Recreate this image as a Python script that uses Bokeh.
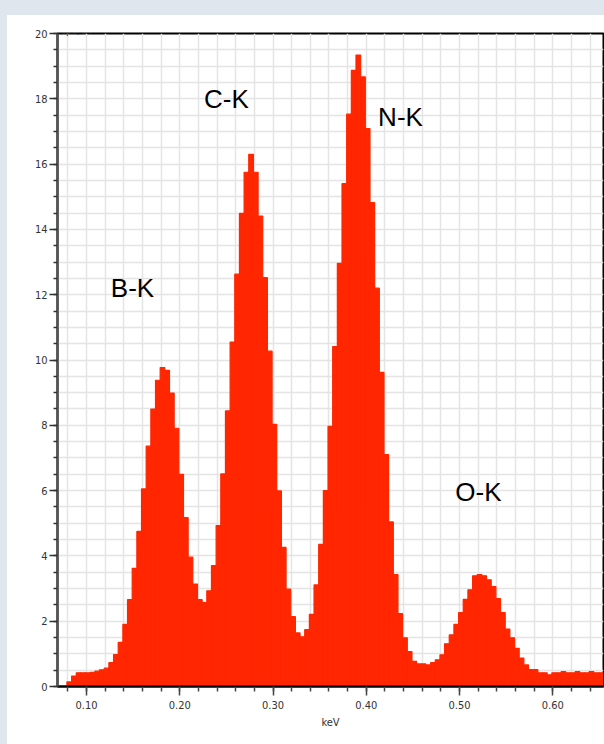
from bokeh.plotting import figure
from bokeh.models import FixedTicker, Range1d, Label, Spacer, ColumnDataSource
from bokeh.layouts import row, column
from bokeh.embed import file_html
from bokeh.resources import INLINE
from bokeh.core.properties import value

# EDS spectrum, 5 eV channels; first channel starts at 0.079 keV
channel_start = 0.079
channel_width = 0.005
counts = [
    0.14, 0.32, 0.42, 0.42, 0.42, 0.43, 0.47, 0.51, 0.56, 0.73,
    0.98, 1.35, 1.90, 2.66, 3.62, 4.75, 6.05, 7.36, 8.50, 9.38,
    9.77, 9.68, 8.99, 7.91, 6.50, 5.17, 3.96, 3.14, 2.66, 2.57,
    2.93, 3.70, 4.93, 6.51, 8.44, 10.55, 12.63, 14.49, 15.75, 16.30,
    15.75, 14.41, 12.52, 10.27, 8.03, 5.99, 4.26, 2.98, 2.14, 1.64,
    1.52, 1.74, 2.21, 3.11, 4.35, 6.00, 7.97, 10.41, 12.96, 15.40,
    17.53, 18.87, 19.34, 18.67, 17.09, 14.82, 12.20, 9.62, 7.10, 5.04,
    3.43, 2.23, 1.49, 1.07, 0.77, 0.69, 0.69, 0.66, 0.73, 0.82,
    0.97, 1.31, 1.58, 1.90, 2.26, 2.67, 2.96, 3.39, 3.43, 3.39,
    3.27, 3.06, 2.69, 2.26, 1.76, 1.49, 1.17, 0.87, 0.66, 0.52,
    0.52, 0.42, 0.42, 0.36, 0.42, 0.42, 0.46, 0.42, 0.42, 0.46,
    0.42, 0.42, 0.46, 0.42, 0.42,
]

# element lines and where their names sit (keV, cps/eV)
line_names = ["B-K", "C-K", "N-K", "O-K"]
line_label_x = [0.1493, 0.2501, 0.4367, 0.5203]
line_label_y = [12.20, 18.00, 17.45, 5.95]

x_tick_values = [0.10, 0.20, 0.30, 0.40, 0.50, 0.60]
x_tick_labels = ["0.10", "0.20", "0.30", "0.40", "0.50", "0.60"]
x_minor_values = [round(0.08 + 0.02 * k, 2) for k in range(29)]
y_tick_values = [0, 2, 4, 6, 8, 10, 12, 14, 16, 18, 20]
y_tick_labels = ["0", "2", "4", "6", "8", "10", "12", "14", "16", "18", "20"]
y_minor_values = [0.5 * k for k in range(41)]

BAR = "#ff2600"
PANEL = "#dfe6ee"
GRID = "#e4e4e4"
SMALL_FONT = "DejaVu Sans Condensed, Liberation Sans, sans-serif"

left = [channel_start + i * channel_width for i in range(len(counts))]
right = [e + channel_width for e in left]
src = ColumnDataSource(dict(left=left, right=right, top=counts, bottom=[0] * len(counts)))

p = figure(
    width=597, height=729,
    x_range=Range1d(0.0689, 0.6544), y_range=Range1d(0, 20),
    output_backend="svg", toolbar_location=None,
    min_border_left=50, min_border_right=1, min_border_top=18, min_border_bottom=58,
)
p.background_fill_color = "white"
p.border_fill_color = "white"
p.outline_line_color = "black"
p.outline_line_width = 2

# grid
p.xgrid.ticker = FixedTicker(ticks=x_minor_values)
p.ygrid.ticker = FixedTicker(ticks=y_minor_values[1:-1])
for g in (p.xgrid, p.ygrid):
    g.grid_line_color = GRID
    g.grid_line_width = 1.5

# spectrum bars (outlined in the fill colour so neighbours join seamlessly)
p.quad(left="left", right="right", top="top", bottom="bottom", source=src,
       fill_color=BAR, line_color=BAR, line_width=1.2)

# x axis
xa = p.xaxis[0]
xa.ticker = FixedTicker(ticks=x_tick_values, minor_ticks=x_minor_values)
xa.major_label_overrides = {v: s for v, s in zip(x_tick_values, x_tick_labels)}
xa.axis_label = "keV"
xa.axis_label_text_font = SMALL_FONT
xa.axis_label_text_font_size = "11px"
xa.axis_label_text_font_style = "normal"
xa.axis_label_text_color = "#333333"
xa.axis_label_standoff = 4
xa.axis_line_color = "black"
xa.axis_line_width = 2
xa.major_tick_in = 0
xa.major_tick_out = 9
xa.minor_tick_in = 0
xa.minor_tick_out = 5
xa.major_tick_line_color = "#444444"
xa.minor_tick_line_color = "#444444"
xa.major_tick_line_width = 1.5
xa.minor_tick_line_width = 1.5
xa.major_label_text_font = SMALL_FONT
xa.major_label_text_font_size = "11px"
xa.major_label_text_color = "#333333"
xa.major_label_standoff = 5

# y axis
ya = p.yaxis[0]
ya.ticker = FixedTicker(ticks=y_tick_values, minor_ticks=y_minor_values)
ya.major_label_overrides = {v: s for v, s in zip(y_tick_values, y_tick_labels)}
ya.axis_line_color = "#555555"
ya.axis_line_width = 2.5
ya.major_tick_in = 0
ya.major_tick_out = 8
ya.minor_tick_in = 0
ya.minor_tick_out = 4
ya.major_tick_line_color = "#333333"
ya.minor_tick_line_color = "#333333"
ya.major_tick_line_width = 1.5
ya.minor_tick_line_width = 1.5
ya.major_label_text_font = SMALL_FONT
ya.major_label_text_font_size = "11px"
ya.major_label_text_color = "#333333"
ya.major_label_standoff = 2

# unit caption over the y axis
p.add_layout(Label(x=0.0689, y=20, x_offset=3, y_offset=3, text="cps/eV",
                   text_font=SMALL_FONT, text_font_size="11px", text_color="#333333",
                   text_align="left", text_baseline="alphabetic"))

# element line names
p.text(x=line_label_x, y=line_label_y, text=line_names,
       text_font=value("Liberation Sans"), text_font_size="26px",
       text_color="black", text_align="center", text_baseline="alphabetic")

page = row(
    Spacer(width=7, height=744, styles={"background-color": PANEL}),
    column(Spacer(width=597, height=15, styles={"background-color": PANEL}), p),
)

open("out.html", "w").write(file_html(page, INLINE))
